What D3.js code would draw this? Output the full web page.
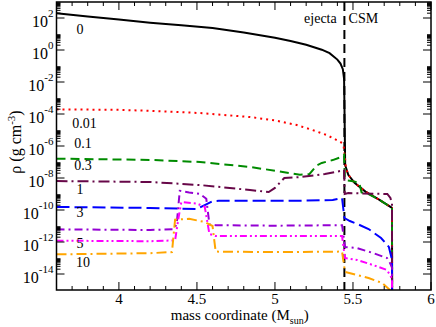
<!DOCTYPE html>
<html>
<head>
<meta charset="utf-8">
<script src="https://cdn.jsdelivr.net/npm/d3@7"></script>
<style>
	body { margin: 0; background: #fff; }
</style>
</head>
<body>
<svg id="viz" width="436" height="327" font-family="'Liberation Serif', 'Times New Roman', Times, 'DejaVu Serif', serif"></svg>
<script>

// mass coordinate (Msun) and log10 of density (g cm^-3)
const seriesNames = ["0", "0.01", "0.1", "0.3", "1", "3", "5", "10"];

const logRho0 = [[3.6,2.29],[3.8,2.1],[4.0,1.9],[4.2,1.71],[4.4,1.55],[4.6,1.37],[4.8,1.1],[5.0,0.76],[5.1,0.56],[5.2,0.33],[5.3,0.02],[5.35,-0.2],[5.4,-0.6],[5.42,-0.85],[5.435,-1.2],[5.443,-1.8],[5.446,-4],[5.45,-7.2],[5.47,-7.8],[5.51,-8.3],[5.58,-8.85],[5.67,-9.37],[5.75,-9.87],[5.751,-17]];
const logRho001 = [[3.6,-3.71],[4.0,-3.74],[4.2,-3.8],[4.52,-3.94],[4.84,-4.19],[5.0,-4.4],[5.14,-4.69],[5.24,-5.0],[5.33,-5.31],[5.37,-5.5],[5.43,-5.81],[5.44,-6.0],[5.447,-6.6],[5.455,-7.4],[5.47,-7.8],[5.51,-8.3],[5.58,-8.85],[5.67,-9.37],[5.75,-9.87],[5.751,-17]];
const logRho01 = [[3.6,-6.79],[4.2,-6.87],[4.52,-7.0],[4.84,-7.31],[5.05,-7.62],[5.16,-7.8],[5.22,-7.76],[5.27,-7.2],[5.3,-7.06],[5.37,-6.88],[5.43,-6.67],[5.443,-6.55],[5.447,-7.9],[5.46,-8.15],[5.5,-8.2],[5.54,-8.3],[5.555,-8.9],[5.6,-9.0],[5.67,-9.37],[5.75,-9.87],[5.751,-17]];
const logRho03 = [[3.6,-8.19],[4.2,-8.25],[4.52,-8.44],[4.84,-8.75],[4.96,-8.88],[5.0,-8.62],[5.06,-8.0],[5.16,-7.94],[5.32,-7.75],[5.42,-7.56],[5.443,-7.5],[5.447,-9.0],[5.47,-8.94],[5.72,-9.0],[5.74,-9.25],[5.75,-9.6],[5.751,-17]];
const logRho1 = [[3.6,-9.81],[4.2,-9.87],[4.5,-9.94],[4.55,-9.69],[4.6,-9.45],[4.64,-9.42],[4.84,-9.42],[5.16,-9.42],[5.37,-9.38],[5.43,-9.25],[5.445,-10.5],[5.48,-10.69],[5.53,-10.88],[5.6,-11.19],[5.68,-11.75],[5.73,-12.31],[5.75,-13.1],[5.751,-17]];
const logRho3 = [[3.6,-11.21],[4.2,-11.25],[4.35,-11.2],[4.37,-10.9],[4.39,-8.8],[4.45,-8.9],[4.52,-9.0],[4.56,-9.3],[4.58,-10.9],[4.62,-10.95],[5.0,-10.98],[5.43,-10.95],[5.449,-12.31],[5.526,-12.38],[5.628,-12.69],[5.718,-13.0],[5.737,-13.31],[5.75,-13.6],[5.751,-17]];
const logRho5 = [[3.6,-11.92],[4.2,-11.95],[4.36,-11.9],[4.38,-10.6],[4.4,-9.5],[4.5,-9.6],[4.55,-9.8],[4.58,-11.5],[4.62,-11.62],[5.0,-11.63],[5.43,-11.63],[5.449,-13.0],[5.526,-13.12],[5.628,-13.44],[5.718,-13.75],[5.737,-14.06],[5.75,-14.3],[5.751,-17]];
const logRho10 = [[3.6,-12.77],[4.2,-12.7],[4.34,-12.63],[4.36,-10.6],[4.45,-10.55],[4.55,-10.75],[4.6,-11.0],[4.62,-12.6],[5.0,-12.63],[5.43,-12.6],[5.449,-13.87],[5.526,-14.06],[5.6,-14.25],[5.686,-14.56],[5.737,-15.0],[5.75,-15.5],[5.751,-17]];

const allSeries = [logRho0, logRho001, logRho01, logRho03, logRho1, logRho3, logRho5, logRho10];

// label positions for the curve names (mass, log rho)
const labelPos = [[3.75,1.0],[3.78,-4.9],[3.77,-6.1],[3.77,-7.5],[3.75,-9.0],[3.75,-10.45],[3.75,-12.35],[3.77,-13.55]];

const xTicks = [4, 4.5, 5, 5.5, 6];
const yExponents = [-14, -12, -10, -8, -6, -4, -2, 0, 2];
const boundaryMass = 5.445;

let drawEverything = function() {

	const margin = { top: 2, right: 5, bottom: 37, left: 56.5 };

	let svg = d3.select("body").select("svg#viz");
	let width = +svg.attr("width");
	let height = +svg.attr("height");
	let plotWidth = width - margin.left - margin.right;
	let plotHeight = height - margin.top - margin.bottom;

	let xScale = d3.scaleLinear().domain([3.6, 6]).range([0, plotWidth]);
	let yScale = d3.scaleLog().domain([1e-15, 1e3]).range([plotHeight, 0]);

	let colors = ["#000000", "#ff0000", "#008b00", "#670748", "#0000ff", "#9400d3", "#ff00ff", "#ffa500"];
	let dashes = [null, "2,4", "9,5", "11,4,2,4", "13,5", "8,4,2,4", "7,3,2,3,2,3", "10,4,2,4"];

	let plot = svg.append("g").attr("id", "plot")
		.attr("transform", `translate(${margin.left}, ${margin.top})`);

	plot.append("clipPath").attr("id", "clip")
		.append("rect").attr("width", plotWidth).attr("height", plotHeight);

	drawLines();
	drawAxes();
	drawText();

	function drawLines() {
		let line = d3.line()
			.x(d => xScale(d[0]))
			.y(d => yScale(Math.pow(10, d[1])));

		let g = plot.append("g").attr("clip-path", "url(#clip)");

		// ejecta / CSM boundary
		g.append("line")
			.attr("x1", xScale(boundaryMass)).attr("x2", xScale(boundaryMass))
			.attr("y1", 0).attr("y2", plotHeight)
			.attr("stroke", "#000").attr("stroke-width", 2)
			.attr("stroke-dasharray", "9,5");

		g.selectAll("path.curve")
			.data(allSeries)
			.enter().append("path")
			.attr("class", "curve")
			.attr("d", line)
			.attr("fill", "none")
			.attr("stroke", (d, i) => colors[i])
			.attr("stroke-width", 2)
			.attr("stroke-dasharray", (d, i) => dashes[i]);
	}

	function drawAxes() {
		// minor ticks, Grace style
		let xMinor = d3.range(36, 61).map(d => d / 10).filter(d => Math.abs(d * 2 - Math.round(d * 2)) > 1e-6);
		let yMinor = [];
		yExponents.forEach(function(e) {
			for (let m = 2; m <= 9; m++) yMinor.push(m * Math.pow(10, e));
		});
		let yMajor = yExponents.map(e => Math.pow(10, e));

		let axes = plot.append("g").attr("id", "axes")
			.attr("stroke", "#000").attr("stroke-width", 1);

		// bottom and top
		[plotHeight, 0].forEach(function(y0) {
			let dir = y0 == 0 ? 1 : -1;
			xTicks.forEach(function(t) {
				axes.append("line").attr("x1", xScale(t)).attr("x2", xScale(t))
					.attr("y1", y0).attr("y2", y0 + dir * 8);
			});
			xMinor.forEach(function(t) {
				axes.append("line").attr("x1", xScale(t)).attr("x2", xScale(t))
					.attr("y1", y0).attr("y2", y0 + dir * 4);
			});
		});
		// left and right
		[0, plotWidth].forEach(function(x0) {
			let dir = x0 == 0 ? 1 : -1;
			yMajor.forEach(function(t) {
				axes.append("line").attr("y1", yScale(t)).attr("y2", yScale(t))
					.attr("x1", x0).attr("x2", x0 + dir * 8);
			});
			yMinor.forEach(function(t) {
				axes.append("line").attr("y1", yScale(t)).attr("y2", yScale(t))
					.attr("x1", x0).attr("x2", x0 + dir * 4);
			});
		});

		plot.append("rect")
			.attr("width", plotWidth).attr("height", plotHeight)
			.attr("fill", "none").attr("stroke", "#000").attr("stroke-width", 1.5);

		// tick labels
		plot.selectAll("text.xlabel")
			.data(xTicks)
			.enter().append("text")
			.attr("class", "xlabel")
			.attr("x", d => xScale(d))
			.attr("y", plotHeight + 14)
			.attr("text-anchor", "middle")
			.style("font-size", "15px")
			.text(d => d);

		let ylab = plot.selectAll("text.ylabel")
			.data(yExponents)
			.enter().append("text")
			.attr("class", "ylabel")
			.attr("x", -3)
			.attr("y", d => yScale(Math.pow(10, d)) + 9)
			.attr("text-anchor", "end")
			.style("font-size", "16px");
		ylab.append("tspan").text("10");
		ylab.append("tspan").attr("dy", -10).style("font-size", "11px").text(d => d < 0 ? "-" + (-d) : d);

		// axis titles
		let xTitle = plot.append("text")
			.attr("x", xScale(4.8) - 4)
			.attr("y", plotHeight + 30)
			.attr("text-anchor", "middle")
			.style("font-size", "15px");
		xTitle.append("tspan").text("mass coordinate (M");
		xTitle.append("tspan").attr("dy", 4).style("font-size", "10px").text("sun");
		xTitle.append("tspan").attr("dy", -4).text(")");

		let yTitle = svg.append("text")
			.attr("transform", "translate(21, 142) rotate(-90)")
			.attr("text-anchor", "middle")
			.style("font-size", "16px");
		yTitle.append("tspan").text("ρ (g cm");
		yTitle.append("tspan").attr("dy", -6).style("font-size", "11px").text("-3");
		yTitle.append("tspan").attr("dy", 6).text(")");
	}

	function drawText() {
		plot.selectAll("text.series")
			.data(seriesNames)
			.enter().append("text")
			.attr("class", "series")
			.attr("x", (d, i) => xScale(labelPos[i][0]))
			.attr("y", (d, i) => yScale(Math.pow(10, labelPos[i][1])))
			.attr("text-anchor", "middle")
			.style("font-size", "14px")
			.text(d => d);

		plot.append("text")
			.attr("x", xScale(boundaryMass) - 24).attr("y", 21)
			.attr("text-anchor", "middle").style("font-size", "14px")
			.text("ejecta");
		plot.append("text")
			.attr("x", xScale(boundaryMass) + 19).attr("y", 21)
			.attr("text-anchor", "middle").style("font-size", "14px")
			.text("CSM");
	}
};

drawEverything();

</script>
</body>
</html>
